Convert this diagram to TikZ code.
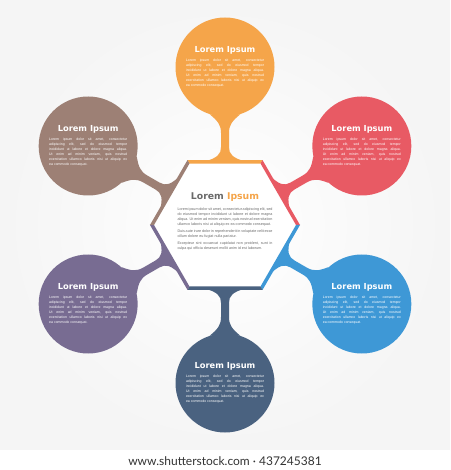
\documentclass[tikz,border=0pt]{standalone}
\usepackage{fontspec}
\usetikzlibrary{shapes.geometric}
\newfontfamily\headf{DejaVu Sans}
\newfontfamily\smallf{Liberation Sans}
\newfontfamily\markf{Lato}
\definecolor{cOrange}{HTML}{F5A54A}
\definecolor{cRed}{HTML}{E85A64}
\definecolor{cBlue}{HTML}{3E98D6}
\definecolor{cNavy}{HTML}{4A6280}
\definecolor{cPurple}{HTML}{786C92}
\definecolor{cBrown}{HTML}{9D8075}
\definecolor{cGrey}{HTML}{6A6A6A}
\newcommand\blurb{%
\parbox{80pt}{\centering
{\headf\bfseries\fontsize{8.3}{10}\selectfont Lorem Ipsum\par}
\vspace{3.5pt}
{\smallf\fontsize{3.5}{5}\selectfont
\makebox[78pt][s]{Lorem ipsum dolor sit amet, consectetur}\\
\makebox[78pt][s]{adipiscing elit, sed do eiusmod tempor}\\
\makebox[78pt][s]{incididunt ut labore et dolore magna aliqua.}\\
\makebox[78pt][s]{Ut enim ad minim veniam, quis nostrud}\\
\makebox[78pt][s]{exercitation ullamco laboris nisi ut aliquip ex}\\
\makebox[78pt][l]{ea commodo consequat.}\par}}}
\begin{document}
\begin{tikzpicture}
[x=1pt,y=1pt,
 blob/.style={circle,minimum size=99pt,inner sep=0pt,text=white},
 hub/.style={regular polygon,regular polygon sides=6,minimum size=146pt,inner sep=0pt,fill=white},
 hubtext/.style={inner sep=0pt,text=cGrey}]
\useasboundingbox (-225,-245) rectangle (225,225);
\shade[inner color=white,outer color=black!4] (-225,-225) rectangle (225,225);
\fill[white] (-225,-245) rectangle (225,-225);
\node[hub] (hub) at (0,0) {};
\foreach \a/\col [count=\n] in {90/cOrange,30/cRed,-30/cBlue,-90/cNavy,-150/cPurple,150/cBrown}
{
\node[blob,fill=\col] (c\n) at (\a:158) {\blurb};
\pgfmathtruncatemacro\lo{\a+198}
\pgfmathtruncatemacro\hi{\a+162}
\fill[\col,rotate=\a] (63,-22) .. controls (67,-7) and (71,-4) .. (78,-4) -- (92,-4)
  .. controls (100,-4) and (104,-7) .. (c\n.\lo) -- (c\n.\hi)
  .. controls (104,7) and (100,4) .. (92,4) -- (78,4)
  .. controls (71,4) and (67,7) .. (63,22) -- cycle;
\fill[\col] (\a-30:75) -- (\a+30:75) -- (\a+30:71) -- (\a-30:71) -- cycle;
}
\node[hubtext] (hubtxt) at (0,3.5) {\parbox{95pt}{%
{\centering\headf\bfseries\fontsize{9.3}{11}\selectfont Lorem \textcolor{cOrange}{Ipsum}\par}
\vspace{4pt}
\smallf\fontsize{3.7}{4.9}\selectfont\color{cGrey}\parskip=2.5pt
Lorem ipsum dolor sit amet, consectetur adipiscing elit, sed do eiusmod tempor incididunt ut labore et dolore magna aliqua. Ut enim ad minim veniam, quis nostrud exercitation ullamco laboris nisi ut aliquip ex ea commodo consequat.\par
Duis aute irure dolor in reprehenderit in voluptate velit esse cillum dolore eu fugiat nulla pariatur.\par
Excepteur sint occaecat cupidatat non proident, sunt in culpa qui officia deserunt mollit anim id est laborum.}};
\node[font=\markf\fontsize{12}{14}\selectfont,text=black!80,inner sep=0pt] (credit) at (0,-236) {www.shutterstock.com · 437245381};
\end{tikzpicture}
\end{document}
